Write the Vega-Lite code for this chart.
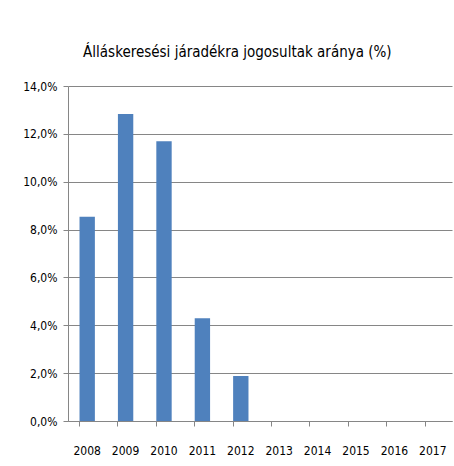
{
  "$schema": "https://vega.github.io/schema/vega-lite/v6.json",
  "autosize": "none",
  "width": 384,
  "height": 335,
  "padding": {"left": 68, "top": 86, "right": 2, "bottom": 45},
  "background": "white",
  "title": {
    "text": "Álláskeresési járadékra jogosultak aránya (%)",
    "font": "DejaVu Sans Condensed",
    "fontSize": 15,
    "fontWeight": "normal",
    "color": "#000000",
    "anchor": "middle",
    "frame": "bounds",
    "offset": 20
  },
  "data": {
    "values": [
      {"year": "2008", "value": 8.54},
      {"year": "2009", "value": 12.83},
      {"year": "2010", "value": 11.69},
      {"year": "2011", "value": 4.29},
      {"year": "2012", "value": 1.88}
    ]
  },
  "mark": {"type": "bar", "color": "#4F81BD"},
  "encoding": {
    "x": {
      "field": "year",
      "type": "ordinal",
      "title": null,
      "scale": {"domain": ["2008", "2009", "2010", "2011", "2012", "2013", "2014", "2015", "2016", "2017"], "paddingInner": 0.6, "paddingOuter": 0.3},
      "axis": {
        "labelAngle": 0,
        "bandPosition": 0,
        "domainColor": "#868686",
        "tickColor": "#868686",
        "tickSize": 5,
        "labelPadding": 19,
        "labelFont": "DejaVu Sans Condensed",
        "labelFontSize": 12,
        "labelColor": "#000000",
        "grid": false
      }
    },
    "y": {
      "field": "value",
      "type": "quantitative",
      "title": null,
      "scale": {"domain": [0, 14], "nice": false},
      "axis": {
        "values": [0, 2, 4, 6, 8, 10, 12, 14],
        "labelExpr": "replace(format(datum.value, '.1f'), '.', ',') + '%'",
        "domainColor": "#868686",
        "tickColor": "#868686",
        "gridColor": "#868686",
        "tickSize": 5,
        "labelPadding": 6,
        "labelFont": "DejaVu Sans Condensed",
        "labelFontSize": 12,
        "labelColor": "#000000"
      }
    }
  },
  "config": {"view": {"stroke": null}}
}
